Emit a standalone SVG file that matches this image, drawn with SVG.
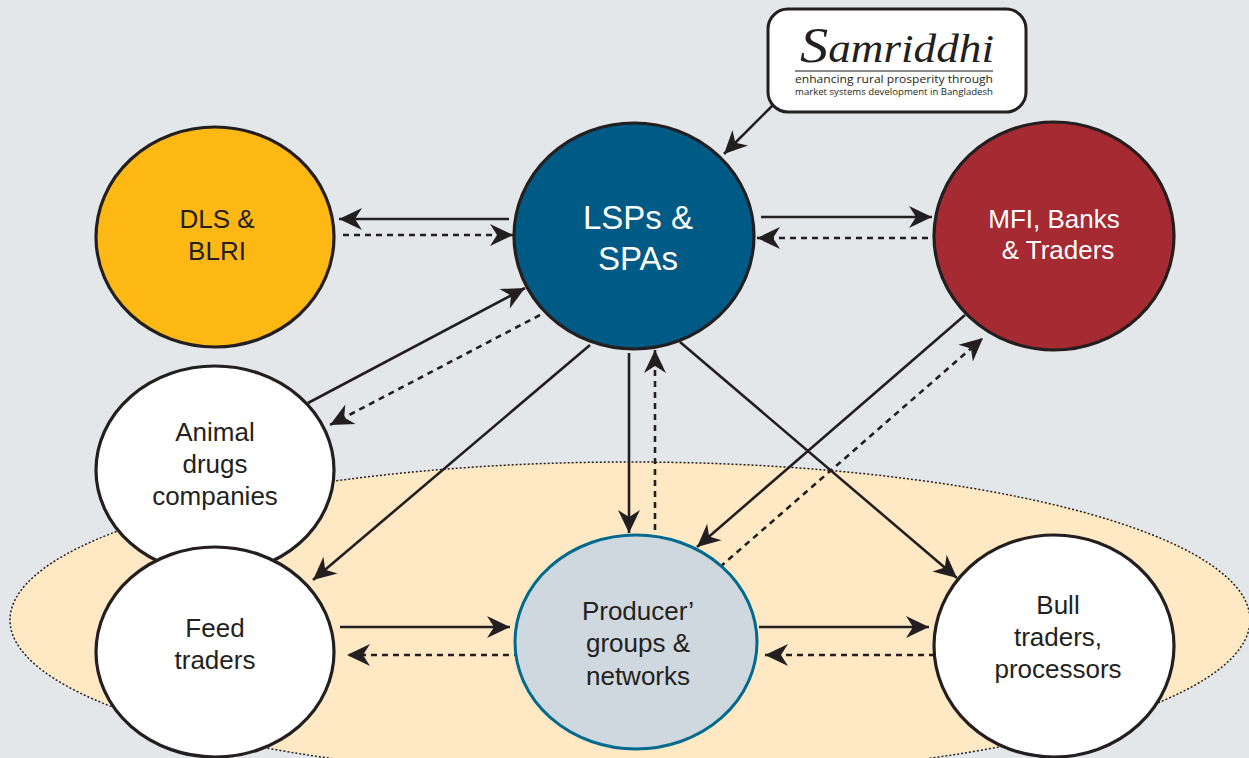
<svg xmlns="http://www.w3.org/2000/svg" width="1249" height="758" viewBox="0 0 1249 758">
<style>
.node{stroke:#231f20;stroke-width:3.2}
.lbl{font-family:"Liberation Sans",Arial,sans-serif;font-size:26px;fill:#231f20;text-anchor:middle}
.wl{fill:#ffffff}
.c{fill:none;stroke:#231f20;stroke-width:2.6;marker-end:url(#ah)}
.d{stroke-dasharray:6 5}
</style>
<defs>
<marker id="ah" markerUnits="userSpaceOnUse" markerWidth="26" markerHeight="26" viewBox="-24 -13 26 26" refX="0" refY="0" orient="auto">
<path d="M0,0 L-23,-11 L-16,0 L-23,11 Z" fill="#231f20"/>
</marker>
</defs>
<rect width="1249" height="758" fill="#e4e7ea"/>
<ellipse id="zone" cx="630" cy="620" rx="620" ry="158" fill="#fee9c4" stroke="#231f20" stroke-width="1.5" stroke-dasharray="2 2"/>

<g id="connectors">
<line class="c" x1="773" y1="105" x2="724" y2="154"/>
<line class="c" x1="509" y1="219" x2="339" y2="219"/>
<line class="c d" x1="343" y1="235" x2="513" y2="235"/>
<line class="c" x1="761" y1="217" x2="932" y2="217"/>
<line class="c d" x1="928" y1="238" x2="757" y2="238"/>
<line class="c" x1="308" y1="403" x2="525" y2="288"/>
<line class="c d" x1="540" y1="315" x2="330" y2="425"/>
<line class="c" x1="590" y1="345" x2="313" y2="580"/>
<line class="c" x1="629" y1="353" x2="629" y2="533"/>
<line class="c d" x1="655" y1="530" x2="655" y2="350"/>
<line class="c" x1="680" y1="342" x2="957" y2="578"/>
<line class="c" x1="965" y1="315" x2="697" y2="547"/>
<line class="c d" x1="720" y1="567" x2="983" y2="338"/>
<line class="c" x1="340" y1="627" x2="510" y2="627"/>
<line class="c d" x1="520" y1="655" x2="347" y2="655"/>
<line class="c" x1="759" y1="627" x2="929" y2="627"/>
<line class="c d" x1="935" y1="655" x2="765" y2="655"/>
</g>

<g id="samriddhi">
<rect x="768" y="9" width="258" height="103" rx="20" fill="#ffffff" stroke="#231f20" stroke-width="3"/>
<text x="800" y="62" font-family="'Liberation Serif','Times New Roman',serif" font-style="italic" fill="#231f20" textLength="194" lengthAdjust="spacingAndGlyphs"><tspan font-size="50">S</tspan><tspan font-size="40">amriddhi</tspan></text>
<line x1="795" y1="71" x2="993" y2="71" stroke="#8a8a8a" stroke-width="2"/>
<text x="795" y="83" font-family="'Open Sans','Liberation Sans',sans-serif" font-size="11" fill="#231f20" textLength="198" lengthAdjust="spacingAndGlyphs">enhancing rural prosperity through</text>
<text x="795" y="95" font-family="'Open Sans','Liberation Sans',sans-serif" font-size="9.5" fill="#231f20" textLength="198" lengthAdjust="spacingAndGlyphs">market systems development in Bangladesh</text>
</g>

<g id="dls">
<ellipse class="node" cx="215" cy="237" rx="119" ry="110" fill="#fdb813"/>
<text class="lbl"><tspan x="217" y="228">DLS &amp;</tspan><tspan x="217" y="260">BLRI</tspan></text>
</g>

<g id="lsps">
<ellipse class="node" cx="634" cy="236" rx="120" ry="113" fill="#005a86"/>
<text class="lbl wl" style="font-size:33px"><tspan x="638" y="229">LSPs &amp;</tspan><tspan x="638" y="270">SPAs</tspan></text>
</g>

<g id="mfi">
<ellipse class="node" cx="1054" cy="236" rx="120" ry="114" fill="#a52a32"/>
<text class="lbl wl"><tspan x="1054" y="228">MFI, Banks</tspan><tspan x="1058" y="259">&amp; Traders</tspan></text>
</g>

<g id="animal">
<ellipse class="node" cx="215" cy="470" rx="119" ry="104" fill="#ffffff"/>
<text class="lbl"><tspan x="215" y="441">Animal</tspan><tspan x="215" y="473">drugs</tspan><tspan x="215" y="505">companies</tspan></text>
</g>

<g id="feed">
<ellipse class="node" cx="215" cy="652" rx="119" ry="105" fill="#ffffff"/>
<text class="lbl"><tspan x="215" y="637">Feed</tspan><tspan x="215" y="669">traders</tspan></text>
</g>

<g id="producer">
<ellipse cx="636" cy="642" rx="121" ry="107" fill="#cfd8de" stroke="#00698f" stroke-width="3"/>
<text class="lbl"><tspan x="638" y="620">Producer’</tspan><tspan x="638" y="652">groups &amp;</tspan><tspan x="638" y="685">networks</tspan></text>
</g>

<g id="bull">
<ellipse class="node" cx="1054" cy="646" rx="120" ry="111" fill="#ffffff"/>
<text class="lbl"><tspan x="1058" y="614">Bull</tspan><tspan x="1058" y="646">traders,</tspan><tspan x="1058" y="678">processors</tspan></text>
</g>
</svg>
